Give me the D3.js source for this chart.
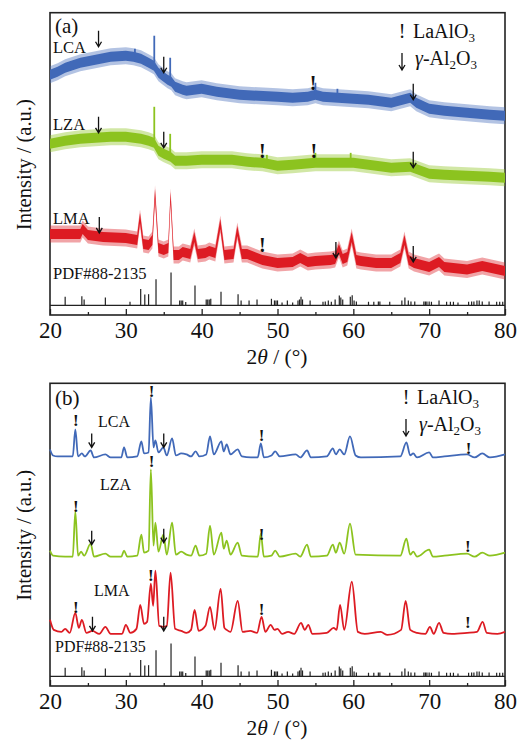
<!DOCTYPE html>
<html>
<head>
<meta charset="utf-8">
<script src="https://cdn.jsdelivr.net/npm/d3@7/dist/d3.min.js"></script>
<style>
  body { margin: 0; background: #fff; }
  text { font-family: "Liberation Serif", "Times New Roman", serif; fill: #111; }
</style>
</head>
<body>
<svg id="chart" width="522" height="740"></svg>
<script>
// ---- data (2theta in degrees, intensity in a.u.) ----
const thetaTicks = [20, 30, 40, 50, 60, 70, 80];
const thetaMinor = [25, 35, 45, 55, 65, 75];

// PDF#88-2135 reference lines: [2theta, relative intensity]
const refLines = [
  [22.0, 26], [24.2, 28], [24.5, 18], [27.3, 24], [30.55, 11], [31.96, 50], [32.5, 33],
  [33.0, 34], [33.98, 79], [35.96, 100], [37.1, 15], [37.3, 15], [37.5, 15], [37.9, 10],
  [39.12, 60], [40.6, 18], [40.8, 18], [41.0, 18], [41.2, 20], [42.55, 41], [44.8, 34],
  [45.2, 15], [46.25, 15], [47.3, 18], [49.2, 20], [49.6, 15], [49.8, 15], [50.0, 15],
  [50.6, 9], [51.3, 15], [52.0, 9], [52.7, 15], [52.9, 18], [53.1, 26], [53.3, 18],
  [54.3, 15], [56.0, 11], [56.3, 12], [56.7, 15], [57.1, 11], [57.6, 18], [58.15, 30],
  [58.35, 24], [58.6, 18], [59.6, 26], [59.85, 31], [60.1, 15], [60.4, 12], [62.0, 11],
  [62.7, 11], [63.3, 12], [63.5, 12], [64.8, 11], [66.4, 15], [66.8, 24], [67.25, 15],
  [67.6, 12], [68.1, 12], [69.3, 12], [69.5, 12], [69.7, 12], [70.0, 12], [70.3, 11],
  [71.3, 15], [72.3, 11], [72.8, 11], [73.2, 11], [73.8, 9], [75.2, 11], [75.6, 12],
  [75.9, 12], [76.3, 15], [76.6, 15], [77.0, 12], [77.9, 12], [78.9, 11], [79.3, 11], [79.7, 11]
];

// panel (a): noisy patterns, mean level
const aLCA = [
  [20, 240], [21, 243], [22, 247], [24, 252], [26, 255], [28, 258], [30, 259], [31, 258],
  [32, 256], [33, 252], [33.7, 249], [34.3, 242], [34.8, 239], [35.5, 235], [36.0, 233],
  [36.5, 228], [37.5, 225], [38, 224], [40, 226], [42, 223], [43, 222], [45, 220],
  [47.5, 219], [50, 218], [52, 217], [54, 218], [55, 220], [56, 218], [58, 217], [60, 216],
  [62, 215], [64, 213], [65, 212], [66.5, 215], [67.5, 217], [68.3, 212], [70, 206],
  [72, 204], [75, 202], [78, 200], [80, 199]
];
const aLCASpikes = [[33.75, 279], [35.85, 257], [55.0, 232], [31.2, 266], [57.9, 226]];

const aLZA = [
  [20, 171], [22, 174], [24, 176], [26, 177], [28, 178], [30, 178], [32, 176], [33, 174],
  [33.7, 172], [34.3, 164], [35, 161], [35.9, 158], [36.5, 154], [38, 154], [40, 155],
  [42, 155], [44, 155], [46, 153], [48, 152], [50, 149], [52, 150], [55, 152], [57, 152],
  [60, 152], [62, 150], [65, 147], [67.5, 148], [70, 141], [72, 140], [75, 139], [78, 138],
  [80, 137]
];
const aLZASpikes = [[33.75, 208], [35.85, 181], [59.65, 162], [55.0, 162], [48.6, 160]];

const aLMA = [
  [20, 81], [22, 81], [24, 81], [24.3, 86], [25, 80], [27, 78], [30, 77], [31.5, 75],
  [31.87, 97], [32.3, 71], [33, 70], [33.5, 75], [33.85, 121], [34.3, 67], [35, 65],
  [35.6, 67], [35.9, 118], [36.3, 60], [37, 60], [37.5, 63], [38.5, 61], [39.03, 78],
  [39.5, 61], [40.5, 62], [41, 64], [41.8, 62], [42.46, 91], [43, 60], [44.2, 61],
  [44.7, 84], [45.3, 61], [46, 61], [48, 55], [50, 52], [52, 53], [53, 57], [54, 53],
  [55, 54], [57, 55], [57.6, 56], [58.1, 66], [58.6, 56], [59.2, 58], [59.78, 78],
  [60.4, 55], [61, 54], [63, 52], [65, 52], [66.2, 57], [66.74, 75], [67.3, 55], [68, 52],
  [70, 48], [71.3, 53], [72, 48], [75, 45.5], [77, 49], [80, 44]
];

// panel (b): calcined patterns
const bLCA = [
  [20.0, 236], [20.4, 230], [21, 229], [22, 229], [23.0, 229], [23.34, 256], [23.7, 229],
  [24.2, 232], [24.6, 229], [25.36, 235], [25.8, 228], [27.3, 231], [28, 228], [29.4, 228],
  [29.76, 238], [30.2, 228], [31.5, 229], [32.05, 244], [32.4, 232], [33.0, 233],
  [33.3, 288], [33.65, 238], [33.9, 245], [34.3, 233], [34.95, 238], [35.4, 230],
  [36.1, 247], [36.6, 230], [37.3, 232], [38.0, 231], [38.6, 229], [39.2, 234], [39.7, 229],
  [40.6, 231], [41.1, 249], [41.6, 231], [42.6, 244], [42.9, 234], [43.3, 241], [43.8, 231],
  [44.75, 236], [45.3, 229], [46.5, 228], [47.4, 228], [47.8, 242], [48.2, 228], [49.2, 230],
  [49.7, 234], [50.3, 229], [52.4, 231], [53.0, 228], [53.9, 235], [54.4, 228], [56.5, 229],
  [57.3, 237], [57.7, 231], [58.2, 236], [58.8, 231], [59.56, 249], [60.3, 230], [61, 228],
  [66.2, 229], [67.0, 243], [67.5, 230], [67.9, 232], [68.4, 228], [70.0, 233], [70.5, 228],
  [72, 229], [75.0, 231], [76, 228], [77.0, 232], [78, 228], [80, 231]
];
const bLZA = [
  [20.0, 135], [20.4, 130], [22, 129], [23.0, 129], [23.34, 174], [23.7, 130], [24.1, 134],
  [24.5, 130], [25.36, 142], [25.8, 129], [27.3, 132], [28, 129], [29.4, 129], [29.76, 135],
  [30.2, 129], [31.5, 130], [32.05, 151], [32.4, 133], [33.0, 135], [33.3, 216], [33.65, 140],
  [33.9, 163], [34.3, 134], [34.95, 151], [35.4, 131], [36.1, 163], [36.6, 131], [37.3, 134],
  [38.0, 131], [38.6, 130], [39.2, 140], [39.7, 130], [40.6, 132], [41.1, 160], [41.6, 131],
  [42.6, 153], [42.9, 137], [43.3, 145], [43.8, 131], [44.75, 143], [45.3, 130], [47.4, 129],
  [47.8, 152], [48.2, 129], [49.2, 130], [49.7, 135], [50.3, 129], [52.4, 132], [53.0, 129],
  [53.9, 141], [54.4, 129], [56.5, 130], [57.3, 141], [57.7, 133], [58.2, 143], [58.8, 132],
  [59.56, 162], [60.3, 131], [66.2, 130], [67.0, 147], [67.5, 131], [67.9, 134], [68.4, 129],
  [70.0, 136], [70.5, 129], [72, 130], [75.0, 132], [76, 129], [77.0, 133], [78, 130], [80, 133]
];
const bLMA = [
  [20.0, 66], [20.5, 56], [21.5, 54], [22.0, 57], [22.6, 53], [23.34, 73], [23.8, 58],
  [24.2, 66], [24.8, 53], [25.6, 55], [26.5, 52], [27.3, 59], [28, 52], [29.5, 52], [30.0, 61],
  [30.6, 53], [31.4, 57], [31.9, 81], [32.4, 62], [32.8, 64], [33.3, 102], [33.6, 80],
  [33.9, 115], [34.4, 60], [35.0, 59], [35.4, 60], [35.9, 113], [36.5, 57], [37.3, 55],
  [38.0, 53], [38.6, 56], [39.07, 76], [39.6, 55], [40.5, 60], [41.1, 79], [41.7, 56],
  [42.5, 97], [43.0, 58], [43.3, 56], [43.8, 54], [44.75, 85], [45.4, 54], [46.4, 55],
  [47.3, 53], [47.9, 69], [48.4, 54], [49.1, 61], [49.6, 56], [50.0, 57], [50.6, 52],
  [51.4, 54], [52.2, 52], [53.1, 63], [53.6, 56], [54.06, 61], [54.6, 52], [56.5, 53],
  [57.4, 58], [57.8, 56], [58.25, 81], [58.8, 56], [59.8, 104], [60.6, 54], [61.5, 52],
  [63.6, 54], [64.5, 51], [66.3, 56], [66.9, 85], [67.5, 56], [68.4, 53], [69.5, 52],
  [70.1, 59], [70.6, 52], [71.3, 63], [71.9, 53], [73, 52], [75.0, 53], [76.3, 54],
  [77.05, 64], [77.6, 53], [79, 52], [80, 54]
];

// phase markers: [2theta, intensity at marker tip]
const aLaAlO3Marks = [[54.7, 225], [48.0, 157], [54.8, 157], [48.0, 63]];
const aAl2O3Marks = [[26.4, 268], [35.0, 242], [67.9, 215], [26.4, 182], [35.0, 167],
  [67.9, 147], [26.5, 82], [57.7, 57], [67.9, 53]];
const bLaAlO3Marks = [[23.4, 259], [33.4, 288], [47.9, 244], [75.2, 231], [23.4, 174],
  [33.4, 218], [47.9, 146], [75.1, 134], [23.4, 73], [33.3, 105], [47.9, 71], [75.1, 58]];
const bAl2O3Marks = [[25.5, 238], [35.0, 238], [25.5, 141], [35.0, 143], [25.6, 55], [35.0, 55]];

const sampleNames = ['LCA', 'LZA', 'LMA'];
const colors = { LCA: '#4169b8', LZA: '#8cc31f', LMA: '#dd1b23' };

// ---- drawing ----
const svg = d3.select('#chart');
const x = d3.scaleLinear().domain([20, 80]).range([50, 505]);
const stickH = d3.scaleLinear().domain([0, 100]).range([0, 33]);

function drawPanel(top, bottom) {
  const y = d3.scaleLinear().domain([0, 302]).range([bottom, top]);
  const g = svg.append('g');

  // axis ticks (inward)
  g.append('g')
    .attr('transform', 'translate(0,' + bottom + ')')
    .call(d3.axisBottom(x).tickValues(thetaTicks).tickSize(-6).tickPadding(6.5))
    .call(a => a.select('.domain').remove())
    .call(a => a.selectAll('line').attr('stroke', '#222').attr('stroke-width', 1.3))
    .call(a => a.selectAll('text').attr('font-size', 23)
      .attr('font-family', '"Liberation Serif", serif').attr('fill', '#111'));
  g.append('g')
    .attr('transform', 'translate(0,' + bottom + ')')
    .call(d3.axisBottom(x).tickValues(thetaMinor).tickSize(-3).tickFormat(''))
    .call(a => a.select('.domain').remove())
    .call(a => a.selectAll('line').attr('stroke', '#222').attr('stroke-width', 1.3));

  // reference sticks
  const base = y(9.6);
  g.append('line')
    .attr('x1', x(20)).attr('x2', x(80)).attr('y1', base).attr('y2', base)
    .attr('stroke', '#222').attr('stroke-width', 1.4);
  g.append('g').selectAll('line').data(refLines).enter().append('line')
    .attr('x1', d => x(d[0])).attr('x2', d => x(d[0]))
    .attr('y1', base).attr('y2', d => base - stickH(d[1]))
    .attr('stroke', '#222').attr('stroke-width', 1.2);

  // frame
  g.append('rect')
    .attr('x', x(20)).attr('y', top).attr('width', x(80) - x(20)).attr('height', bottom - top)
    .attr('fill', 'none').attr('stroke', '#222').attr('stroke-width', 1.6);

  // x title
  const t = g.append('text')
    .attr('x', 277).attr('y', bottom + 49).attr('text-anchor', 'middle').attr('font-size', 21.5);
  t.append('tspan').text('2');
  t.append('tspan').attr('font-style', 'italic').text('θ');
  t.append('tspan').text(' / (°)');

  // y title
  g.append('text')
    .attr('transform', 'translate(31,' + (top + 152) + ') rotate(-90)')
    .attr('text-anchor', 'middle').attr('font-size', 20.5)
    .text('Intensity / (a.u.)');

  return { g: g, y: y };
}

function drawArrow(g, px, py, len) {
  g.append('path')
    .attr('d', 'M' + px + ',' + (py - len) + 'V' + py + 'M' + (px - 3) + ',' + (py - 5) +
      'L' + px + ',' + py + 'L' + (px + 3) + ',' + (py - 5))
    .attr('fill', 'none').attr('stroke', '#111').attr('stroke-width', 1.3);
}

function drawBang(g, px, py, size) {
  g.append('text')
    .attr('x', px).attr('y', py).attr('text-anchor', 'middle')
    .attr('font-size', size).attr('font-weight', 'bold').text('!');
}

function drawLegend(g, lx, ly) {
  g.append('text').attr('x', lx).attr('y', ly).attr('text-anchor', 'middle')
    .attr('font-size', 20).text('!');
  const t1 = g.append('text').attr('x', lx + 11).attr('y', ly).attr('font-size', 20);
  t1.append('tspan').text('LaAlO');
  t1.append('tspan').attr('font-size', 13).attr('dy', 4).text('3');
  drawArrow(g, lx, ly + 32, 17);
  const t2 = g.append('text').attr('x', lx + 13).attr('y', ly + 27).attr('font-size', 20);
  t2.append('tspan').attr('font-style', 'italic').text('γ');
  t2.append('tspan').text('-Al');
  t2.append('tspan').attr('font-size', 13).attr('dy', 4).text('2');
  t2.append('tspan').attr('dy', -4).text('O');
  t2.append('tspan').attr('font-size', 13).attr('dy', 4).text('3');
}

function label(g, lx, ly, txt, size) {
  g.append('text').attr('x', lx).attr('y', ly).attr('font-size', size).text(txt);
}

// ----- panel (a) -----
const pa = drawPanel(12.7, 315);
const aSeries = { LCA: [aLCA, aLCASpikes], LZA: [aLZA, aLZASpikes], LMA: [aLMA, []] };
sampleNames.forEach(function(name) {
  const data = aSeries[name][0];
  const col = colors[name];
  [[8.5, 0.4], [5, 1]].forEach(function(band) {
    const area = d3.area()
      .x(d => x(d[0]))
      .y0(d => pa.y(d[1] - band[0]))
      .y1(d => pa.y(d[1] + band[0]));
    pa.g.append('path').datum(data).attr('d', area)
      .attr('fill', col).attr('fill-opacity', band[1]);
  });
  pa.g.append('g').selectAll('line').data(aSeries[name][1]).enter().append('line')
    .attr('x1', d => x(d[0])).attr('x2', d => x(d[0]))
    .attr('y1', d => pa.y(d3.least(data, p => Math.abs(p[0] - d[0]))[1]))
    .attr('y2', d => pa.y(d[1]))
    .attr('stroke', col).attr('stroke-width', 1.8);
});
aLaAlO3Marks.forEach(d => drawBang(pa.g, x(d[0]), pa.y(d[1]), 20));
aAl2O3Marks.forEach(d => drawArrow(pa.g, x(d[0]), pa.y(d[1]), 16));
label(pa.g, 55, 33, '(a)', 21);
label(pa.g, 53, 53, 'LCA', 16.5);
label(pa.g, 53, 130, 'LZA', 16.5);
label(pa.g, 53, 224, 'LMA', 16.5);
label(pa.g, 53, 279, 'PDF#88-2135', 16.5);
drawLegend(pa.g, 402, 38);

// ----- panel (b) -----
const pb = drawPanel(383.3, 686);
const bSeries = { LCA: bLCA, LZA: bLZA, LMA: bLMA };
sampleNames.forEach(function(name) {
  const line = d3.line()
    .x(d => x(d[0]))
    .y(d => pb.y(d[1]))
    .curve(d3.curveMonotoneX);
  pb.g.append('path').datum(bSeries[name]).attr('d', line)
    .attr('fill', 'none').attr('stroke', colors[name]).attr('stroke-width', 1.8);
});
bLaAlO3Marks.forEach(d => drawBang(pb.g, x(d[0]), pb.y(d[1]), 17));
bAl2O3Marks.forEach(d => drawArrow(pb.g, x(d[0]), pb.y(d[1]), 14));
label(pb.g, 55, 405, '(b)', 21);
label(pb.g, 98, 427, 'LCA', 16);
label(pb.g, 100, 490, 'LZA', 16);
label(pb.g, 94, 596, 'LMA', 16);
label(pb.g, 55, 652, 'PDF#88-2135', 16);
drawLegend(pb.g, 406, 404);
</script>
</body>
</html>
